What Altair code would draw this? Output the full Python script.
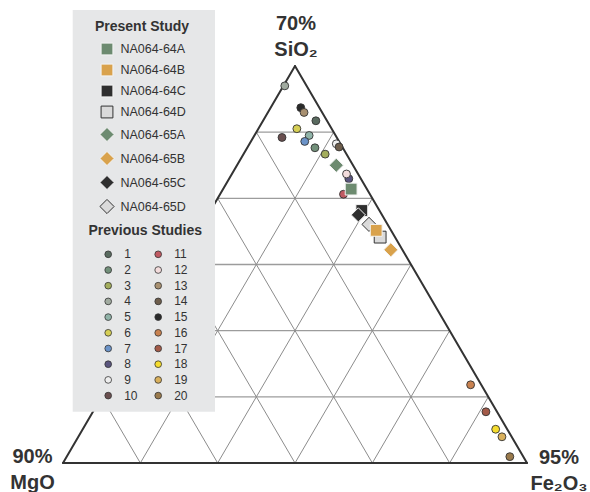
import altair as alt
import pandas as pd

# Compositions are given as percentages of the plotted triangle:
# apex = 70% SiO2, lower left = 90% MgO, lower right = 95% Fe2O3.

# ---- Previous studies (listed in drawing order) ----
prev_study = ["1", "2", "3", "4", "5", "6", "7", "8", "9", "10",
              "11", "12", "15", "13", "14", "16", "17", "19", "18", "20"]
prev_sio2 = [86.2, 79.4, 77.8, 95.0, 82.5, 84.2, 81.0, 71.6, 80.4, 82.0,
             67.7, 72.8, 89.5, 88.3, 79.6, 19.7, 12.9, 6.6, 8.5, 1.6]
prev_fe2o3 = [11.4, 14.6, 17.6, 0.3, 11.8, 8.3, 11.6, 25.8, 18.7, 6.2,
              26.6, 24.7, 6.5, 7.8, 19.7, 78.0, 84.7, 91.3, 89.0, 95.5]
prev_mgo = [2.4, 6.0, 4.6, 4.7, 5.7, 7.5, 7.4, 2.6, 0.9, 11.8,
            5.7, 2.5, 4.0, 3.9, 0.7, 2.3, 2.4, 2.1, 2.5, 2.9]

study_names = [str(i) for i in range(1, 21)]
study_colors = ["#5a6b60", "#72907a", "#a3ad5c", "#a1aba0", "#90b3a8",
                "#d6cf55", "#6b93c8", "#5a557e", "#eeeeee", "#6a4f4f",
                "#c05a62", "#f3dcdc", "#a89070", "#6e5e4c", "#2a2a2a",
                "#c98250", "#a35a48", "#f5dc2e", "#d9b05c", "#9a7a4c"]

# ---- Present study (listed in drawing order) ----
pres_sample = ["NA064-64C", "NA064-65C", "NA064-65D", "NA064-64D",
               "NA064-64B", "NA064-65A", "NA064-64A", "NA064-65B"]
pres_sio2 = [63.6, 62.5, 60.1, 56.9, 58.6, 75.0, 69.0, 53.7]
pres_fe2o3 = [32.6, 32.4, 35.9, 39.9, 38.2, 21.4, 27.6, 43.8]
pres_mgo = [3.8, 5.1, 4.0, 3.2, 3.2, 3.6, 3.4, 2.5]

sample_names = ["NA064-64A", "NA064-64B", "NA064-64C", "NA064-64D",
                "NA064-65A", "NA064-65B", "NA064-65C", "NA064-65D"]
sample_fill = ["#6d8b70", "#d9a24c", "#2f2f2f", "#dadada"] * 2
sample_stroke = ["#f4f4f4", "#f4f4f4", "#f4f4f4", "#333333"] * 2
sample_shape = ["square"] * 4 + ["diamond"] * 4
sample_size = [140] * 4 + [200] * 4

# ---- Ternary grid levels and corner labels ----
grid_levels = [16.667, 33.333, 50.0, 66.667, 83.333]
corner_name = ["top", "left", "right"]
corner_sio2 = [100, 0, 0]
corner_fe2o3 = [0, 0, 100]
corner_text = ["70%\nSiO₂", "90%\nMgO", "95%\nFe₂O₃"]

FONT = "Liberation Sans"
INK = "#333333"

prev_df = pd.DataFrame({"study": prev_study, "sio2": prev_sio2,
                        "fe2o3": prev_fe2o3, "mgo": prev_mgo})
pres_df = pd.DataFrame({"sample": pres_sample, "sio2": pres_sio2,
                        "fe2o3": pres_fe2o3, "mgo": pres_mgo})

seg_rows = []
for g in grid_levels:
    seg_rows.append({"kind": "h", "si1": g, "fe1": 0, "si2": g, "fe2": 100 - g})
    seg_rows.append({"kind": "d", "si1": 0, "fe1": g, "si2": 100 - g, "fe2": g})
    seg_rows.append({"kind": "d", "si1": 0, "fe1": 100 - g, "si2": 100 - g, "fe2": 0})
grid_df = pd.DataFrame(seg_rows)

edge_df = pd.DataFrame({
    "si1": [corner_sio2[i] for i in range(3)],
    "fe1": [corner_fe2o3[i] for i in range(3)],
    "si2": [corner_sio2[(i + 1) % 3] for i in range(3)],
    "fe2": [corner_fe2o3[(i + 1) % 3] for i in range(3)],
})
corner_df = pd.DataFrame({"corner": corner_name, "sio2": corner_sio2,
                          "fe2o3": corner_fe2o3, "label": corner_text})

xscale = alt.Scale(domain=[0, 1], nice=False, zero=False)
yscale = alt.Scale(domain=[0, 1], nice=False, zero=False)

# ternary -> cartesian (x along the base, y toward the SiO2 apex)
TX = "datum.fe2o3 / 100 + datum.sio2 / 200"
TY = "datum.sio2 / 100"


def segments(df, **mark):
    return (
        alt.Chart(df)
        .transform_calculate(xa="datum.fe1 / 100 + datum.si1 / 200", ya="datum.si1 / 100",
                             xb="datum.fe2 / 100 + datum.si2 / 200", yb="datum.si2 / 100")
        .mark_rule(**mark)
        .encode(x=alt.X("xa:Q", scale=xscale, axis=None),
                y=alt.Y("ya:Q", scale=yscale, axis=None),
                x2="xb:Q", y2="yb:Q")
    )


grid_h = segments(grid_df[grid_df.kind == "h"], color="#9c9c9c", strokeWidth=1.4)
grid_d = segments(grid_df[grid_df.kind == "d"], color="#8c8c8c", strokeWidth=1)
edges = segments(edge_df, color=INK, strokeWidth=2, strokeCap="round")

legend_box = alt.Chart(pd.DataFrame({"k": [0]})).mark_rect(color="#e6e7e8").encode(
    x=alt.value(9.7), x2=alt.value(152), y=alt.value(-56), y2=alt.value(345.7)
)

common_legend = dict(
    orient="none", direction="vertical", padding=0,
    titleFont=FONT, titleFontSize=14, titleFontWeight="bold", titleColor=INK,
    titleAnchor="middle", labelFont=FONT, labelColor=INK,
)
legend_present = alt.Legend(
    title="Present Study", legendX=32, legendY=-46.5, titlePadding=9,
    labelFontSize=12.5, labelOffset=5.5, rowPadding=4, symbolStrokeWidth=1,
    **common_legend,
)
# two columns: 1-10 on the left, 11-20 on the right
legend_prev = alt.Legend(
    title="Previous Studies", legendX=25.2, legendY=158.3, titlePadding=10,
    columns=2, columnPadding=14, rowPadding=3.7, labelFontSize=12, labelOffset=10,
    symbolType="circle", symbolSize=45, symbolStrokeColor=INK, symbolStrokeWidth=0.8,
    **common_legend,
)

prev_pts = (
    alt.Chart(prev_df)
    .transform_calculate(x=TX, y=TY)
    .mark_point(filled=True, shape="circle", size=62, stroke=INK, strokeWidth=0.9, opacity=1)
    .encode(
        x=alt.X("x:Q", scale=xscale, axis=None),
        y=alt.Y("y:Q", scale=yscale, axis=None),
        fill=alt.Fill("study:N", scale=alt.Scale(domain=study_names, range=study_colors),
                      legend=legend_prev),
    )
)

pres_pts = (
    alt.Chart(pres_df)
    .transform_calculate(x=TX, y=TY)
    .mark_point(filled=True, strokeWidth=1, opacity=1)
    .encode(
        x=alt.X("x:Q", scale=xscale, axis=None),
        y=alt.Y("y:Q", scale=yscale, axis=None),
        color=alt.Color("sample:N", scale=alt.Scale(domain=sample_names, range=sample_fill),
                        legend=legend_present),
        shape=alt.Shape("sample:N", scale=alt.Scale(domain=sample_names, range=sample_shape),
                        legend=legend_present),
        stroke=alt.Stroke("sample:N", scale=alt.Scale(domain=sample_names, range=sample_stroke),
                          legend=legend_present),
        size=alt.Size("sample:N",
                      scale=alt.Scale(type="ordinal", domain=sample_names, range=sample_size),
                      legend=legend_present),
    )
)


def corner_label(name, dx, dy):
    return (
        alt.Chart(corner_df[corner_df.corner == name])
        .transform_calculate(x=TX, y=TY)
        .mark_text(font=FONT, fontSize=20, fontWeight="bold", color=INK, align="center",
                   baseline="alphabetic", lineBreak="\n", lineHeight=26, dx=dx, dy=dy)
        .encode(x=alt.X("x:Q", scale=xscale, axis=None),
                y=alt.Y("y:Q", scale=yscale, axis=None),
                text="label:N")
    )


chart = (
    alt.layer(
        grid_h, grid_d, edges, legend_box, prev_pts, pres_pts,
        corner_label("top", 1, -36),
        corner_label("left", -30.5, 0),
        corner_label("right", 32, 1),
    )
    .properties(
        width=464, height=397,
        padding={"left": 63, "top": 66, "right": 63, "bottom": 29},
        autosize=alt.AutoSizeParams(type="none"),
        background="white",
    )
    .configure_view(stroke=None)
)

chart.save("out.html", embed_options={"renderer": "svg", "actions": False})
